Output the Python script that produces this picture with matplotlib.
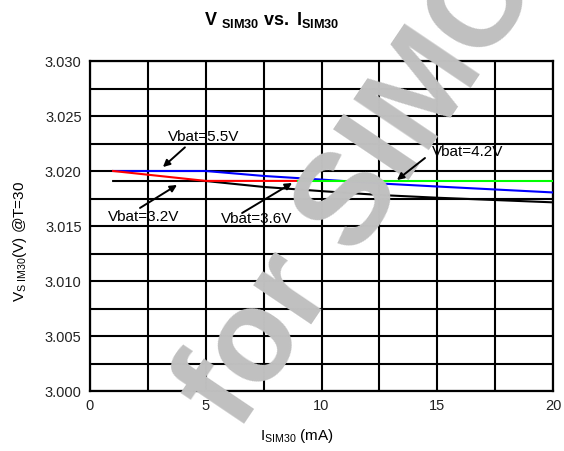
import matplotlib
matplotlib.use("Agg")
import matplotlib.pyplot as plt
import numpy as np

plt.rcParams['font.family'] = ['Liberation Sans', 'DejaVu Sans']
plt.rcParams['mathtext.fontset'] = 'custom'
plt.rcParams['mathtext.rm'] = 'Liberation Sans'
plt.rcParams['mathtext.it'] = 'Liberation Sans:italic'
plt.rcParams['mathtext.bf'] = 'Liberation Sans:bold'

# Data (current in mA, voltage in V)
x_blue = [1, 5, 7.5, 10, 12.5, 15, 17.5, 20]
y_blue = [3.0200, 3.0200, 3.01955, 3.01922, 3.01887, 3.01859, 3.01832, 3.01805]
x_black = [1, 5, 7.5, 10, 12.5, 15, 17.5, 20]
y_black = [3.01909, 3.01909, 3.01855, 3.01817, 3.01782, 3.01757, 3.01736, 3.01715]
x_red = [1, 5, 9]
y_red = [3.0200, 3.01910, 3.01910]
x_green = [9, 20]
y_green = [3.01910, 3.01910]

xticks = [0, 5, 10, 15, 20]
yticks = [3.000, 3.005, 3.010, 3.015, 3.020, 3.025, 3.030]

fig = plt.figure(figsize=(5.64, 4.51), dpi=100)
ax = fig.add_axes([90/564, 1-391/451, 463/564, 330/451])

ax.plot(x_black, y_black, color='black', lw=1.5, zorder=3)
ax.plot(x_blue, y_blue, color='#0000ff', lw=1.5, zorder=4)
ax.plot(x_red, y_red, color='#ff0000', lw=1.5, zorder=4)
ax.plot(x_green, y_green, color='#00ff00', lw=1.5, zorder=5)

ax.set_xlim(0, 20)
ax.set_ylim(3.000, 3.030)
ax.set_xticks(xticks)
ax.set_xticklabels([str(t) for t in xticks])
ax.set_yticks(yticks)
ax.set_yticklabels(['%.3f' % t for t in yticks])
ax.set_xticks(np.arange(0, 20.01, 2.5), minor=True)
ax.set_yticks(np.arange(3.000, 3.0301, 0.0025), minor=True)
ax.grid(True, which='both', color='black', lw=1.5)
ax.tick_params(which='both', length=0, labelsize=10.5, colors='#222222', pad=6)
for s in ax.spines.values():
    s.set_linewidth(1.6)
    s.set_color('black')

# annotations
ap = dict(arrowstyle='-|>', lw=1.4, color='black', mutation_scale=10, shrinkA=0, shrinkB=0)
ax.text(3.37, 3.0231, 'Vbat=5.5V', fontsize=11, ha='left', va='center', zorder=12)
ax.annotate('', xy=(3.15, 3.02036), xytext=(4.1, 3.02215), arrowprops=ap, zorder=12)
ax.text(2.33, 3.01582, 'Vbat=3.2V', fontsize=11, ha='center', va='center', zorder=12)
ax.annotate('', xy=(3.76, 3.01873), xytext=(2.16, 3.01664), arrowprops=ap, zorder=12)
ax.text(7.21, 3.01564, 'Vbat=3.6V', fontsize=11, ha='center', va='center', zorder=12)
ax.annotate('', xy=(8.73, 3.01891), xytext=(6.57, 3.01618), arrowprops=ap, zorder=12)
ax.text(16.33, 3.02177, 'Vbat=4.2V', fontsize=11, ha='center', va='center', zorder=12)
ax.annotate('', xy=(13.26, 3.01918), xytext=(14.47, 3.02118), arrowprops=ap, zorder=12)

# titles and labels
fig.text(272/564, 1-20/451, r'$\mathbf{V}\ _{\mathbf{SIM30}}$' + r'$\mathbf{\ vs.\ I}_{\mathbf{SIM30}}$',
         ha='center', va='center', fontsize=13)
fig.text(20/564, 1-241/451, r'V$_{\mathrm{S\ IM30}}$(V) @T=30', rotation=90,
         ha='center', va='center', fontsize=11)
fig.text(297/564, 1-436/451, r'I$_{\mathrm{SIM30}}$ (mA)', ha='center', va='center', fontsize=11)

# watermark
ax.text(238, 18, 'for SIMCOM', transform=None, fontsize=94, fontweight='bold',
        color='#c0c0c0', rotation=56, rotation_mode='anchor', ha='left', va='baseline',
        zorder=11, clip_on=False)

fig.savefig('out.png', dpi=100)
